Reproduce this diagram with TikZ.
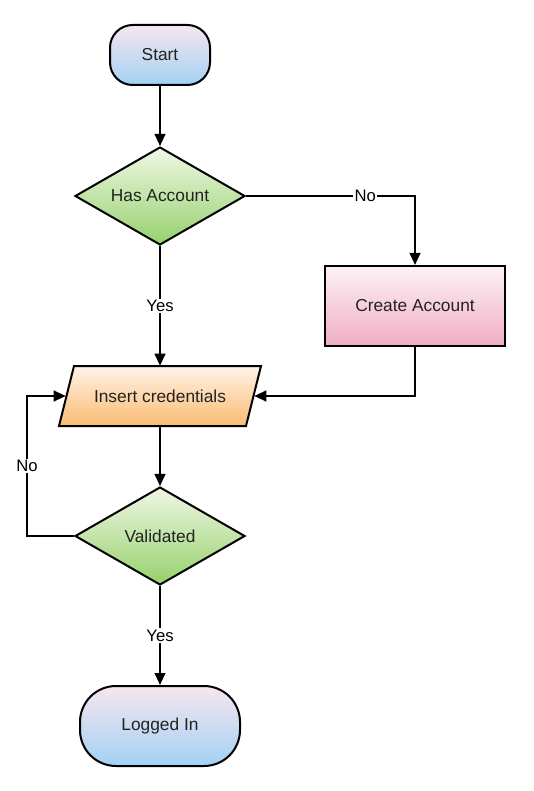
\documentclass[tikz,border=0pt]{standalone}
\usepackage{fontspec}
\setmainfont{Liberation Sans}
\usetikzlibrary{shapes.geometric,arrows.meta}
\definecolor{termtop}{HTML}{F6E6EF}
\definecolor{termbot}{HTML}{A3D1F2}
\definecolor{dectop}{HTML}{EFF7E5}
\definecolor{decbot}{HTML}{96D16C}
\definecolor{proctop}{HTML}{FDF1F5}
\definecolor{procbot}{HTML}{F0AEC3}
\definecolor{iotop}{HTML}{FFF3E8}
\definecolor{iobot}{HTML}{FBBB72}
\definecolor{txt}{HTML}{222222}
\begin{document}
\begin{tikzpicture}[x=0.75pt,y=-0.75pt,
  shapetext/.style={font=\fontsize{13}{15}\selectfont, text=txt},
  term/.style={shapetext, draw, line width=1.5pt, rectangle, top color=termtop, bottom color=termbot},
  decision/.style={shapetext, draw, line width=1.5pt, diamond, aspect=1.73, inner sep=0pt,
    minimum width=127.5pt, minimum height=73.5pt, top color=dectop, bottom color=decbot},
  process/.style={shapetext, draw, line width=1.5pt, rectangle, minimum width=135pt, minimum height=60pt,
    top color=proctop, bottom color=procbot},
  arr/.style={line width=1.5pt, -{Triangle[length=9pt,width=8pt]}},
  lbl/.style={fill=white, inner sep=1pt, font=\fontsize{12.5}{14}\selectfont, text=black}]
\useasboundingbox (0,0) rectangle (534,791);
% terminals
\node[term, minimum width=75pt, minimum height=45pt, rounded corners=17pt] (start) at (160,55) {Start};
\node[term, minimum width=120pt, minimum height=60pt, rounded corners=27pt] (log) at (160,726) {Logged In};
% decisions
\node[decision] (has) at (160,196) {Has Account};
\node[decision] (val) at (160,536) {Validated};
% process
\node[process] (create) at (415,306) {Create Account};
% input parallelogram
\path[draw, line width=1.5pt, top color=iotop, bottom color=iobot]
  (74,366) -- (261,366) -- (246,426) -- (59,426) -- cycle;
\node[shapetext, minimum width=141pt, minimum height=45pt, inner sep=0pt] (ins) at (160,396) {Insert credentials};
% connectors
\draw[arr] (start) -- (has);
\draw[arr] (has.east) -| node[lbl, pos=0.353] {No} (create.north);
\draw[arr] (has) -- node[lbl] {Yes} (ins);
\draw[arr] (create.south) |- (ins.east);
\draw[arr] (ins) -- (val);
\coordinate (lc) at (27,536);
\draw[arr] (val.west) -- (lc) |- node[lbl, pos=0.25] {No} (ins.west);
\draw[arr] (val) -- node[lbl] {Yes} (log);
\end{tikzpicture}
\end{document}
